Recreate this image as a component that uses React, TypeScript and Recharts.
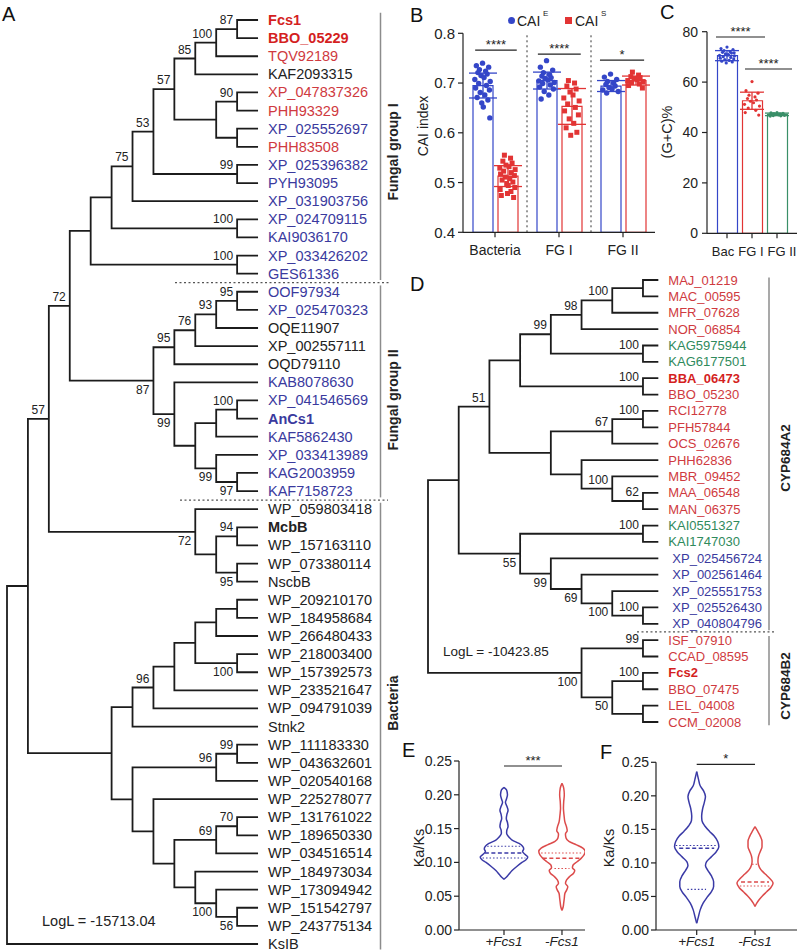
import React from 'react';
import { ComposedChart, Line, Scatter, Bar, XAxis, YAxis, ErrorBar, ReferenceLine, Legend, Cell } from 'recharts';

const FONT = 'Arial, "Liberation Sans", Helvetica, sans-serif';
const INK = '#222222';
const TREE_RED = '#cf3a40';
const TREE_RED_BOLD = '#d41f1f';
const TREE_BLUE = '#3a3a9e';
const TREE_GREEN = '#2f8a5c';
const BAR_BLUE = '#3446c8';
const BAR_RED = '#e23434';
const BAR_GREEN = '#3a8f68';
const VIO_BLUE = '#3a3aa6';
const VIO_RED = '#dc4b4b';

// ---------------- Tree topologies: [bootstrap, labelPos(a=above,b=below), child, child]
type TNode = string | [string, string, TNode, TNode];

const treeA: TNode = ['', '',
  ['', '',
    ['57', 'a',
      ['72', 'a',
        ['', '',
          ['', '',
            ['75', 'a',
              ['53', 'a',
                ['57', 'a',
                  ['85', 'a', ['100', 'a', ['87', 'a', 'Fcs1', 'BBO_05229'], 'TQV92189'], 'KAF2093315'],
                  ['', '', ['90', 'a', 'XP_047837326', 'PHH93329'], ['', '', 'XP_025552697', 'PHH83508']]],
                ['99', 'a', 'XP_025396382', 'PYH93095']],
              'XP_031903756'],
            ['100', 'a', 'XP_024709115', 'KAI9036170']],
          ['100', 'a', 'XP_033426202', 'GES61336']],
        ['87', 'b',
          ['95', 'a', ['76', 'a', ['93', 'a', ['95', 'a', 'OOF97934', 'XP_025470323'], 'OQE11907'], 'XP_002557111'], 'OQD79110'],
          ['99', 'b', 'KAB8078630',
            ['', '',
              ['', '', ['100', 'a', 'XP_041546569', 'AnCs1'], 'KAF5862430'],
              ['99', 'b', 'XP_033413989', ['97', 'b', 'KAG2003959', 'KAF7158723']]]]]],
      ['72', 'b', 'WP_059803418', ['', '', ['94', 'a', 'McbB', 'WP_157163110'], ['95', 'b', 'WP_073380114', 'NscbB']]]],
    ['', '',
      ['', '',
        ['96', 'a',
          ['', '',
            ['', '', ['', '', ['', '', 'WP_209210170', 'WP_184958684'], 'WP_266480433'], ['100', 'b', 'WP_218003400', 'WP_157392573']],
            'WP_233521647'],
          'WP_094791039'],
        'Stnk2'],
      ['', '',
        ['96', 'a', ['99', 'a', 'WP_111183330', 'WP_043632601'], 'WP_020540168'],
        ['', '', 'WP_225278077',
          ['', '',
            ['69', 'a', ['70', 'a', 'WP_131761022', 'WP_189650330'], 'WP_034516514'],
            ['', '', 'WP_184973034', ['100', 'b', 'WP_173094942', ['56', 'b', 'WP_151542797', 'WP_243775134']]]]]]]],
  'KsIB'];

const aRedLeaves = ['Fcs1', 'BBO_05229', 'TQV92189', 'XP_047837326', 'PHH93329', 'PHH83508'];
const aBlueLeaves = ['XP_025552697', 'XP_025396382', 'PYH93095', 'XP_031903756', 'XP_024709115', 'KAI9036170',
  'XP_033426202', 'GES61336', 'OOF97934', 'XP_025470323', 'KAB8078630', 'XP_041546569', 'AnCs1', 'KAF5862430',
  'XP_033413989', 'KAG2003959', 'KAF7158723'];
const aBoldLeaves = ['Fcs1', 'BBO_05229', 'AnCs1', 'McbB'];
const aGroups = ['Fungal group I', 'Fungal group II', 'Bacteria'];
const aLogL = 'LogL = -15713.04';

const treeD: TNode = ['', '',
  ['', '',
    ['51', 'a',
      ['', '',
        ['99', 'a',
          ['98', 'a', ['100', 'a', ['', '', 'MAJ_01219', 'MAC_00595'], 'MFR_07628'], 'NOR_06854'],
          ['100', 'a', 'KAG5975944', 'KAG6177501']],
        ['100', 'a', 'BBA_06473', 'BBO_05230']],
      ['', '',
        ['67', 'a', ['100', 'a', 'RCI12778', 'PFH57844'], 'OCS_02676'],
        ['', '', 'PHH62836', ['100', 'a', 'MBR_09452', ['62', 'a', 'MAA_06548', 'MAN_06375']]]]],
    ['55', 'b',
      ['100', 'a', 'KAI0551327', 'KAI1747030'],
      ['99', 'b', 'XP_025456724', ['69', 'b', 'XP_002561464', ['100', 'b', 'XP_025551753', ['100', 'a', 'XP_025526430', 'XP_040804796']]]]]],
  ['100', 'b', ['99', 'a', 'ISF_07910', 'CCAD_08595'], ['50', 'b', ['100', 'a', 'Fcs2', 'BBO_07475'], ['', '', 'LEL_04008', 'CCM_02008']]]];

const dGreenLeaves = ['KAG5975944', 'KAG6177501', 'KAI0551327', 'KAI1747030'];
const dBlueLeaves = ['XP_025456724', 'XP_002561464', 'XP_025551753', 'XP_025526430', 'XP_040804796'];
const dBoldLeaves = ['BBA_06473', 'Fcs2'];
const dGroups = ['CYP684A2', 'CYP684B2'];
const dLogL = 'LogL = -10423.85';

// ---------------- Panel B data
const bCats = ['Bacteria', 'FG I', 'FG II'];
const bMeanE = [0.695, 0.705, 0.694];
const bSdE = [0.025, 0.017, 0.011];
const bMeanS = [0.513, 0.653, 0.705];
const bSdS = [0.021, 0.036, 0.009];
const bPtsE = [
  [0.740, 0.735, 0.732, 0.727, 0.724, 0.721, 0.718, 0.715, 0.711, 0.707, 0.703, 0.699, 0.695, 0.690, 0.686, 0.681, 0.676, 0.671, 0.666, 0.660, 0.652, 0.630],
  [0.745, 0.732, 0.726, 0.721, 0.717, 0.714, 0.711, 0.709, 0.706, 0.704, 0.701, 0.699, 0.696, 0.692, 0.688, 0.683, 0.676, 0.668],
  [0.718, 0.712, 0.707, 0.703, 0.700, 0.697, 0.694, 0.691, 0.688, 0.686, 0.683, 0.680],
];
const bPtsS = [
  [0.555, 0.549, 0.543, 0.539, 0.535, 0.532, 0.529, 0.526, 0.523, 0.520, 0.517, 0.514, 0.511, 0.508, 0.505, 0.501, 0.498, 0.494, 0.490, 0.486, 0.482, 0.478, 0.474, 0.470],
  [0.705, 0.700, 0.694, 0.688, 0.682, 0.676, 0.670, 0.664, 0.658, 0.651, 0.644, 0.636, 0.628, 0.619, 0.610, 0.601, 0.595],
  [0.722, 0.716, 0.713, 0.711, 0.709, 0.707, 0.705, 0.703, 0.701, 0.698, 0.695, 0.690],
];
const bYTicks = [0.4, 0.5, 0.6, 0.7, 0.8];
const bSig = [['****', 0.766], ['****', 0.758], ['*', 0.746]];

// ---------------- Panel C data
const cCats = ['Bac', 'FG I', 'FG II'];
const cMean = [70.5, 52.6, 47.2];
const cSd = [2.0, 3.4, 0.5];
const cPts = [
  [73.9, 73.3, 72.9, 72.5, 72.1, 71.8, 71.5, 71.2, 70.9, 70.6, 70.4, 70.1, 69.8, 69.5, 69.2, 68.9, 68.6, 68.3, 68.0, 67.6, 70.8, 71.6],
  [60.2, 56.6, 55.6, 54.8, 54.1, 53.5, 52.9, 52.4, 51.8, 51.2, 50.5, 49.7, 48.8, 47.9, 46.9],
  [47.9, 47.8, 47.6, 47.5, 47.4, 47.3, 47.2, 47.1, 47.0, 46.9, 46.8, 46.7, 46.6, 46.5],
];
const cYTicks = [0, 20, 40, 60, 80];

// ---------------- Panels E / F violins: [Ka/Ks value, half width in category units]
const vCats = ['+Fcs1', '-Fcs1'];
const vYTicks = [0, 0.05, 0.1, 0.15, 0.2, 0.25];
const eViolinPlus = [[0.211, 0], [0.207, 0.045], [0.2, 0.06], [0.193, 0.04], [0.189, 0.025], [0.183, 0.05], [0.177, 0.07], [0.171, 0.05], [0.165, 0.04], [0.159, 0.06], [0.153, 0.07], [0.148, 0.05], [0.143, 0.045], [0.138, 0.08], [0.133, 0.14], [0.128, 0.26], [0.124, 0.32], [0.12, 0.34], [0.116, 0.32], [0.112, 0.36], [0.108, 0.41], [0.104, 0.38], [0.1, 0.31], [0.094, 0.22], [0.088, 0.14], [0.082, 0.08], [0.078, 0.04], [0.075, 0]];
const eViolinMinus = [[0.217, 0], [0.21, 0.03], [0.2, 0.04], [0.19, 0.03], [0.18, 0.025], [0.17, 0.035], [0.16, 0.05], [0.152, 0.08], [0.147, 0.09], [0.142, 0.06], [0.136, 0.07], [0.131, 0.12], [0.126, 0.25], [0.121, 0.36], [0.116, 0.4], [0.111, 0.38], [0.106, 0.33], [0.101, 0.26], [0.096, 0.19], [0.092, 0.18], [0.088, 0.22], [0.084, 0.2], [0.079, 0.13], [0.074, 0.08], [0.069, 0.06], [0.064, 0.1], [0.059, 0.08], [0.054, 0.05], [0.047, 0.04], [0.04, 0.03], [0.034, 0.02], [0.029, 0]];
const eQuartPlus = [[0.124, 0.29, 'q'], [0.114, 0.33, 'm'], [0.1065, 0.37, 'q']];
const eQuartMinus = [[0.114, 0.36, 'q'], [0.106, 0.33, 'm'], [0.091, 0.13, 'q']];
const fViolinPlus = [[0.236, 0], [0.225, 0.03], [0.215, 0.06], [0.207, 0.12], [0.199, 0.15], [0.19, 0.13], [0.18, 0.1], [0.17, 0.085], [0.163, 0.09], [0.155, 0.14], [0.147, 0.22], [0.14, 0.3], [0.132, 0.36], [0.124, 0.38], [0.116, 0.33], [0.109, 0.25], [0.102, 0.17], [0.096, 0.15], [0.089, 0.19], [0.081, 0.25], [0.072, 0.29], [0.065, 0.29], [0.057, 0.25], [0.049, 0.18], [0.04, 0.11], [0.03, 0.06], [0.02, 0.03], [0.01, 0]];
const fViolinMinus = [[0.154, 0], [0.148, 0.04], [0.14, 0.09], [0.132, 0.12], [0.124, 0.12], [0.117, 0.09], [0.11, 0.06], [0.103, 0.05], [0.097, 0.06], [0.09, 0.1], [0.083, 0.18], [0.077, 0.25], [0.07, 0.31], [0.063, 0.27], [0.057, 0.2], [0.051, 0.13], [0.045, 0.07], [0.04, 0.03], [0.035, 0]];
const fQuartPlus = [[0.126, 0.36, 'q'], [0.1217, 0.3, 'm'], [0.0605, 0.16, 'q']];
const fQuartMinus = [[0.098, 0.05, 'q'], [0.0715, 0.24, 'm'], [0.0655, 0.26, 'q']];

// ---------------- helpers
function layoutTree(tree: TNode, tip: number) {
  const heightOf = (n: TNode): number => (typeof n === 'string' ? 0 : 1 + Math.max(heightOf(n[2]), heightOf(n[3])));
  const H = heightOf(tree);
  const leaves: any[] = [];
  const labels: any[] = [];
  const path: any[] = [];
  const walk = (n: TNode): { y: number; d: number } => {
    if (typeof n === 'string') {
      leaves.push({ x: tip, y: leaves.length, name: n });
      return { y: leaves.length - 1, d: tip };
    }
    const kids = [walk(n[2]), walk(n[3])];
    const d = H - heightOf(n);
    const y = (kids[0].y + kids[1].y) / 2;
    kids.forEach((k) => {
      path.push({ x: d, y }, { x: d, y: k.y }, { x: k.d, y: k.y }, { x: k.d, y: null });
    });
    if (n[0]) labels.push({ x: d, y, text: n[0], pos: n[1] });
    return { y, d };
  };
  walk(tree);
  return { leaves, labels, path };
}

const textShape = (p: any) => {
  const d = p.payload;
  const x = p.cx + (d.dx || 0);
  const y = p.cy + (d.dy || 0);
  return (
    <text
      x={x}
      y={y}
      transform={d.rotate ? `rotate(-90 ${x} ${y})` : undefined}
      textAnchor={d.anchor || 'start'}
      dominantBaseline="central"
      fontSize={d.size || 12}
      fontWeight={d.weight || 400}
      fontStyle={d.italic ? 'italic' : 'normal'}
      fill={d.color || INK}
      fontFamily={FONT}
    >
      {d.text}
    </text>
  );
};
const noShape = () => <g />;

const JITTER = [0, -0.8, 0.8, -0.4, 0.4, -0.6, 0.6, -0.2, 0.2, -1, 1, -0.5, 0.5, -0.9, 0.9, -0.3, 0.3, -0.7, 0.7, -0.1, 0.1, 0.95, -0.95, 0.45];

const vTitle = (text: string, x: number, y: number, size = 14) => ({
  content: () => (
    <text x={x} y={y} transform={`rotate(-90 ${x} ${y})`} textAnchor="middle" dominantBaseline="central" fontSize={size} fontFamily={FONT} fill={INK}>
      {text}
    </text>
  ),
});

// ---------------- Tree A geometry
const layA = layoutTree(treeA, 12);
const A_X0 = 7, A_STEP = 20.92, A_TOP = 20, A_BOT = 944, A_W = 420, A_H = 952;
const aN = layA.leaves.length;
const lvA = (px: number) => (px - A_X0) / A_STEP;
const lfA = (py: number) => (py - A_TOP) / ((A_BOT - A_TOP) / (aN - 1));
const colorA = (n: string) =>
  aRedLeaves.includes(n) ? (aBoldLeaves.includes(n) ? TREE_RED_BOLD : TREE_RED) : aBlueLeaves.includes(n) ? TREE_BLUE : INK;
const aMarks = [
  ...layA.leaves.map((l) => ({ x: l.x, y: l.y, text: l.name, dx: 10, size: 14.5, color: colorA(l.name), weight: aBoldLeaves.includes(l.name) ? 700 : 400 })),
  ...layA.labels.map((b) => ({ x: b.x, y: b.y, text: b.text, dx: -4, dy: b.pos === 'a' ? -9 : 9, anchor: 'end', size: 12 })),
  { x: lvA(393), y: lfA(152), text: aGroups[0], rotate: true, anchor: 'middle', weight: 700, size: 14 },
  { x: lvA(393), y: lfA(400), text: aGroups[1], rotate: true, anchor: 'middle', weight: 700, size: 14 },
  { x: lvA(393), y: lfA(703), text: aGroups[2], rotate: true, anchor: 'middle', weight: 700, size: 14 },
  { x: lvA(42), y: lfA(921), text: aLogL, size: 14.5 },
];
const aBars = [[-0.4, 14.35], [14.65, 26.35], [26.65, 51.3]];
const aDots = [[14.5, lvA(175), lvA(390)], [26.5, lvA(180), lvA(388)]];

// ---------------- Tree D geometry
const layD = layoutTree(treeD, 7.5);
const D_X0 = 428, D_STEP = 30.71, D_TOP = 280, D_BOT = 722, D_LEFT = 400, D_Y = 262, D_W = 400, D_H = 478;
const dN = layD.leaves.length;
const lvD = (px: number) => (px - D_X0) / D_STEP;
const lfD = (py: number) => (py - D_TOP) / ((D_BOT - D_TOP) / (dN - 1));
const colorD = (n: string) =>
  dGreenLeaves.includes(n) ? TREE_GREEN : dBlueLeaves.includes(n) ? TREE_BLUE : dBoldLeaves.includes(n) ? TREE_RED_BOLD : TREE_RED;
const dMarks = [
  ...layD.leaves.map((l) => ({ x: l.x, y: l.y, text: l.name, dx: dBlueLeaves.includes(l.name) ? 14 : 10, size: 13, color: colorD(l.name), weight: dBoldLeaves.includes(l.name) ? 700 : 400 })),
  ...layD.labels.map((b) => ({ x: b.x, y: b.y, text: b.text, dx: -4, dy: b.pos === 'a' ? -9 : 9, anchor: 'end', size: 12 })),
  { x: lvD(785), y: lfD(458), text: dGroups[0], rotate: true, anchor: 'middle', weight: 700, size: 13.5 },
  { x: lvD(785), y: lfD(686), text: dGroups[1], rotate: true, anchor: 'middle', weight: 700, size: 13.5 },
  { x: lvD(443), y: lfD(651), text: dLogL, size: 13.5 },
];
const dBars = [[-0.15, 21.4], [21.75, 27.2]];
const dDots = [[21.5, lvD(637), lvD(775)]];

function TreeChart({ lay, marks, bars, dots, barX, width, height, margin, xMax, n }: any) {
  return (
    <ComposedChart width={width} height={height} margin={margin}>
      <XAxis type="number" dataKey="x" domain={[0, xMax]} hide />
      <YAxis type="number" dataKey="y" domain={[0, n - 1]} reversed hide />
      {bars.map((b: number[], i: number) => (
        <ReferenceLine key={'g' + i} segment={[{ x: barX, y: b[0] }, { x: barX, y: b[1] }]} stroke="#8c8c8c" strokeWidth={1.5} ifOverflow="visible" />
      ))}
      {dots.map((d: number[], i: number) => (
        <ReferenceLine key={'d' + i} segment={[{ x: d[1], y: d[0] }, { x: d[2], y: d[0] }]} stroke="#555" strokeWidth={1.2} strokeDasharray="2 2.5" ifOverflow="visible" />
      ))}
      <Line data={lay.path} dataKey="y" stroke="#1c1c1c" strokeWidth={1.8} dot={false} activeDot={false} connectNulls={false} type="linear" isAnimationActive={false} />
      <Scatter data={marks} dataKey="y" shape={textShape} isAnimationActive={false} />
    </ComposedChart>
  );
}

// ---------------- B rows and points
const bRows = bCats.map((cat, i) => ({ cat, e: bMeanE[i], s: bMeanS[i], sdE: bSdE[i], sdS: bSdS[i] }));
const bPointsE = bPtsE.flatMap((arr, i) => arr.map((v, j) => ({ x: i - 0.195 + JITTER[j % JITTER.length] * 0.12, y: v })));
const bPointsS = bPtsS.flatMap((arr, i) => arr.map((v, j) => ({ x: i + 0.195 + JITTER[(j + 3) % JITTER.length] * 0.12, y: v })));
const bBracketX = [[-0.31, 0.34], [0.67, 1.34], [1.64, 2.33]];

const cRows = cCats.map((cat, i) => ({ cat, mean: cMean[i] }));
const cColors = [BAR_BLUE, BAR_RED, BAR_GREEN];
const cPoints = cPts.map((arr, i) => arr.map((v, j) => ({ x: i + JITTER[j % JITTER.length] * 0.3, y: v })));
const cBrackets = [[-0.44, 1.52, 77.9], [0.72, 2.6, 65.2]];
const cTickShift = [-4, -1, 5];

const tickStyle = { fontSize: 14, fill: INK, fontFamily: FONT };

const CTick = (p: any) => {
  const v = String(p.payload && p.payload.value);
  const k = Math.max(0, cCats.indexOf(v));
  return (
    <text x={Number(p.x) + cTickShift[k]} y={Number(p.y)} dy="0.71em" textAnchor="middle" fontSize={13} fill={INK} fontFamily={FONT}>
      {v}
    </text>
  );
};

function Violins({ plus, minus, qPlus, qMinus, domainX, width, margin, sigY, sig, yTitleX }: any) {
  const sides = [
    { pts: plus, c: 1, col: VIO_BLUE, q: qPlus },
    { pts: minus, c: 2, col: VIO_RED, q: qMinus },
  ];
  return (
    <ComposedChart width={width} height={212} margin={margin}>
      <XAxis type="number" dataKey="x" domain={domainX} ticks={[1, 2]} tickFormatter={(v: number) => vCats[v - 1]}
        height={22} tickSize={5} tickMargin={1} interval={0}
        tick={{ ...tickStyle, fontSize: 13.5, fontStyle: 'italic' }} stroke={INK} strokeWidth={1.2} allowDataOverflow />
      <YAxis type="number" dataKey="y" domain={[0, 0.25]} ticks={vYTicks} tickFormatter={(v: number) => v.toFixed(2)}
        width={margin.yw} tickSize={5} tickMargin={2} tick={tickStyle} stroke={INK} strokeWidth={1.2} interval={0}
        label={vTitle('Ka/Ks', yTitleX, 108, 14.5)} />
      {sides.map((s, i) => (
        <Scatter key={'r' + i} data={s.pts.map((p: number[]) => ({ x: s.c + p[1], y: p[0] }))} dataKey="y" shape={noShape}
          line={{ stroke: s.col, strokeWidth: 1.5 }} lineJointType="monotoneY" fill={s.col} isAnimationActive={false} />
      ))}
      {sides.map((s, i) => (
        <Scatter key={'l' + i} data={s.pts.map((p: number[]) => ({ x: s.c - p[1], y: p[0] }))} dataKey="y" shape={noShape}
          line={{ stroke: s.col, strokeWidth: 1.5 }} lineJointType="monotoneY" fill={s.col} isAnimationActive={false} />
      ))}
      {sides.flatMap((s, i) =>
        s.q.map((q: any[], j: number) => (
          <ReferenceLine key={'q' + i + j} segment={[{ x: s.c - q[1], y: q[0] }, { x: s.c + q[1], y: q[0] }]}
            stroke={s.col} strokeWidth={q[2] === 'm' ? 1.5 : 1.1} strokeDasharray={q[2] === 'm' ? '4 2.5' : '1.5 2'} ifOverflow="visible" />
        ))
      )}
      <ReferenceLine segment={[{ x: 1, y: sigY }, { x: 2, y: sigY }]} stroke={INK} strokeWidth={1.2} ifOverflow="visible"
        label={{ value: sig, position: 'top', offset: 1, fontSize: 13, fill: INK, fontFamily: FONT }} />
    </ComposedChart>
  );
}

const letterStyle = (left: number, top: number): React.CSSProperties => ({
  position: 'absolute', left, top, fontSize: 20, lineHeight: '20px', fontFamily: FONT, color: '#111',
});

export default function App() {
  return (
    <div style={{ position: 'absolute', left: 0, top: 0, width: 800, height: 952, background: '#fff', overflow: 'hidden', fontFamily: FONT }}>
      {/* Panel A */}
      <div style={{ position: 'absolute', left: 0, top: 0 }}>
        <TreeChart lay={layA} marks={aMarks} bars={aBars} dots={aDots} barX={lvA(380.5)} width={A_W} height={A_H}
          margin={{ top: A_TOP, bottom: A_H - A_BOT, left: A_X0, right: 0 }} xMax={(A_W - A_X0) / A_STEP} n={aN} />
      </div>

      {/* Panel D */}
      <div style={{ position: 'absolute', left: D_LEFT, top: D_Y }}>
        <TreeChart lay={layD} marks={dMarks} bars={dBars} dots={dDots} barX={lvD(769)} width={D_W} height={D_H}
          margin={{ top: D_TOP - D_Y, bottom: D_Y + D_H - D_BOT, left: D_X0 - D_LEFT, right: 0 }} xMax={(D_LEFT + D_W - D_X0) / D_STEP} n={dN} />
      </div>

      {/* Panel B */}
      <div style={{ position: 'absolute', left: 400, top: 0 }}>
        <ComposedChart width={260} height={262} data={bRows} margin={{ top: 33.3, right: 5, bottom: 0, left: 0 }} barGap={5}>
          <XAxis xAxisId="c" dataKey="cat" type="category" height={29.7} tickSize={5} tickMargin={8} interval={0}
            tick={tickStyle} stroke={INK} strokeWidth={1.2} />
          <XAxis xAxisId="n" type="number" dataKey="x" domain={[-0.5, 2.5]} hide />
          <YAxis domain={[0.4, 0.8]} ticks={bYTicks} tickFormatter={(v: number) => v.toFixed(1)} width={63} tickSize={5} tickMargin={3}
            tick={{ ...tickStyle, fontSize: 15 }} stroke={INK} strokeWidth={1.2} interval={0} label={vTitle('CAI index', 23, 126, 14)} />
          <ReferenceLine xAxisId="n" x={0.5} stroke="#333" strokeDasharray="2 3" />
          <ReferenceLine xAxisId="n" x={1.5} stroke="#333" strokeDasharray="2 3" />
          <Bar xAxisId="c" dataKey="e" barSize={20} fill="#fff" stroke={BAR_BLUE} strokeWidth={1.2} isAnimationActive={false}>
            <ErrorBar dataKey="sdE" width={14} stroke={BAR_BLUE} strokeWidth={1.3} direction="y" />
          </Bar>
          <Bar xAxisId="c" dataKey="s" barSize={20} fill="#fff" stroke={BAR_RED} strokeWidth={1.2} isAnimationActive={false}>
            <ErrorBar dataKey="sdS" width={14} stroke={BAR_RED} strokeWidth={1.3} direction="y" />
          </Bar>
          <Scatter xAxisId="n" data={bPointsE} dataKey="y" fill={BAR_BLUE} shape={(p: any) => <circle cx={p.cx} cy={p.cy} r={2.7} fill={BAR_BLUE} />} isAnimationActive={false} />
          <Scatter xAxisId="n" data={bPointsS} dataKey="y" fill={BAR_RED} shape={(p: any) => <rect x={p.cx - 2.5} y={p.cy - 2.5} width={5} height={5} fill={BAR_RED} />} isAnimationActive={false} />
          {bBracketX.map((bx, i) => (
            <ReferenceLine key={'bb' + i} xAxisId="n" segment={[{ x: bx[0], y: bSig[i][1] as number }, { x: bx[1], y: bSig[i][1] as number }]}
              stroke={INK} strokeWidth={1.2} ifOverflow="visible"
              label={{ value: bSig[i][0] as string, position: 'top', offset: 1, fontSize: 13, fill: INK, fontFamily: FONT }} />
          ))}
          <Legend layout="horizontal" verticalAlign="middle" align="center" wrapperStyle={{ top: 12, left: 104, width: 140, height: 18 }}
            content={() => (
              <div style={{ position: 'relative', width: 140, height: 18, fontFamily: FONT, color: INK }}>
                <span style={{ position: 'absolute', left: 3.5, top: 4.5, width: 7, height: 7, borderRadius: 4, background: BAR_BLUE }} />
                <span style={{ position: 'absolute', left: 13, top: 0, fontSize: 14, lineHeight: '18px' }}>CAI</span>
                <span style={{ position: 'absolute', left: 39, top: -3, fontSize: 8, lineHeight: '10px' }}>E</span>
                <span style={{ position: 'absolute', left: 61, top: 5, width: 6.5, height: 6.5, background: BAR_RED }} />
                <span style={{ position: 'absolute', left: 71, top: 0, fontSize: 14, lineHeight: '18px' }}>CAI</span>
                <span style={{ position: 'absolute', left: 97, top: -3, fontSize: 8, lineHeight: '10px' }}>S</span>
              </div>
            )} />
        </ComposedChart>
      </div>

      {/* Panel C */}
      <div style={{ position: 'absolute', left: 660, top: 0 }}>
        <ComposedChart width={140} height={262} data={cRows} margin={{ top: 31.7, right: 3, bottom: 0, left: 0 }}>
          <XAxis xAxisId="c" dataKey="cat" type="category" height={28.7} padding={{ left: 7.5, right: 7.5 }} tickSize={5} tickMargin={8}
            interval={0} tick={CTick} stroke={INK} strokeWidth={1.2} />
          <XAxis xAxisId="n" type="number" dataKey="x" domain={[-0.5, 2.5]} padding={{ left: 7.5, right: 7.5 }} hide />
          <YAxis domain={[0, 80]} ticks={cYTicks} width={47} tickSize={5} tickMargin={4} tick={tickStyle} stroke={INK} strokeWidth={1.2}
            interval={0} label={vTitle('(G+C)%', 7, 132, 14.5)} />
          <Bar xAxisId="c" dataKey="mean" barSize={20} fill="#fff" strokeWidth={1.2} isAnimationActive={false}>
            {cRows.map((r, i) => <Cell key={r.cat} stroke={cColors[i]} fill="#fff" />)}
          </Bar>
          {cPoints.map((pts, i) => (
            <Scatter key={'cp' + i} xAxisId="n" data={pts} dataKey="y" fill={cColors[i]}
              shape={(p: any) => <circle cx={p.cx} cy={p.cy} r={1.6} fill={cColors[i]} />} isAnimationActive={false} />
          ))}
          {cMean.map((m, i) => (
            <Scatter key={'cm' + i} xAxisId="n" data={[{ x: i, y: m, sd: cSd[i] }]} dataKey="y" fill={cColors[i]} shape={noShape} isAnimationActive={false}>
              <ErrorBar dataKey="sd" direction="y" width={12} stroke={cColors[i]} strokeWidth={1.3} />
            </Scatter>
          ))}
          {cBrackets.map((b, i) => (
            <ReferenceLine key={'cb' + i} xAxisId="n" segment={[{ x: b[0], y: b[2] }, { x: b[1], y: b[2] }]} stroke={INK} strokeWidth={1.2}
              ifOverflow="visible" label={{ value: '****', position: 'top', offset: 1, fontSize: 13, fill: INK, fontFamily: FONT }} />
          ))}
        </ComposedChart>
      </div>

      {/* Panel E */}
      <div style={{ position: 'absolute', left: 400, top: 740 }}>
        <Violins plus={eViolinPlus} minus={eViolinMinus} qPlus={eQuartPlus} qMinus={eQuartMinus} domainX={[0.224, 2.397]} width={200}
          margin={{ top: 21, right: 15, bottom: 0, left: 0, yw: 59 }} sigY={0.2426} sig="***" yTitleX={19} />
      </div>

      {/* Panel F */}
      <div style={{ position: 'absolute', left: 600, top: 740 }}>
        <Violins plus={fViolinPlus} minus={fViolinMinus} qPlus={fQuartPlus} qMinus={fQuartMinus} domainX={[0.302, 2.72]} width={200}
          margin={{ top: 22.3, right: 3, bottom: 0, left: 0, yw: 56 }} sigY={0.247} sig="*" yTitleX={9} />
      </div>

      <div style={letterStyle(2, 4)}>A</div>
      <div style={letterStyle(410, 5)}>B</div>
      <div style={letterStyle(660, 2)}>C</div>
      <div style={letterStyle(410, 274)}>D</div>
      <div style={letterStyle(402, 740)}>E</div>
      <div style={letterStyle(600, 742)}>F</div>
    </div>
  );
}
